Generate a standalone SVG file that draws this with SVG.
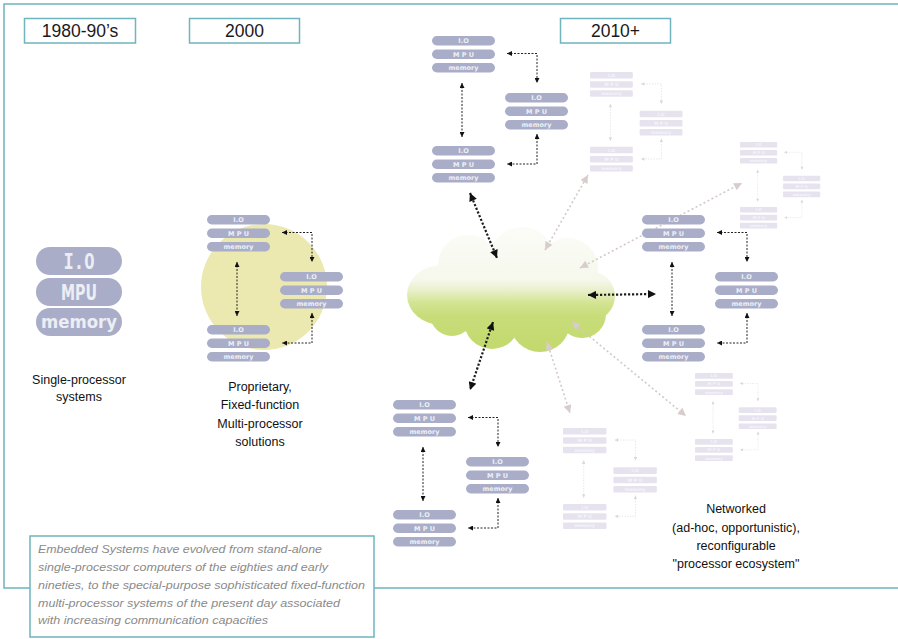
<svg xmlns="http://www.w3.org/2000/svg" xmlns:xlink="http://www.w3.org/1999/xlink" width="898" height="639" viewBox="0 0 898 639">
<style>
.frame{fill:none;stroke:#6fb4be;stroke-width:1.5}
.lbl{fill:#fff;stroke:#6fb4be;stroke-width:1.5}
.era{font-family:"Liberation Sans",Arial,sans-serif;font-size:17.5px;fill:#1a1a1a;text-anchor:middle}
.desc{font-family:"Liberation Sans",Arial,sans-serif;font-size:12.5px;fill:#111;text-anchor:middle}
.cap{font-family:"Liberation Sans",Arial,sans-serif;font-size:11.5px;font-style:italic;fill:#8a8a8a}
.bar{fill:#a9adc8}
.barf{fill:#e6e3ef}
.mt{font-family:"DejaVu Sans",sans-serif;font-size:6.5px;font-weight:bold;fill:#eef0f7;text-anchor:middle}
.mtf{font-family:"DejaVu Sans",sans-serif;font-size:6.5px;font-weight:bold;fill:#f5f4f9;text-anchor:middle}
.big{font-family:"DejaVu Sans",sans-serif;font-weight:bold;fill:#eceef6;text-anchor:middle}
.cn{fill:none;stroke:#222;stroke-width:1;stroke-dasharray:2 1.5}
.cnf{fill:none;stroke:#dcdcdc;stroke-width:1;stroke-dasharray:2 2}
.bk{fill:none;stroke:#1e1e1e;stroke-width:2.2;stroke-dasharray:2.2 1.8}
.gr{fill:none;stroke:#d4c8c8;stroke-width:1.6;stroke-dasharray:2 2.5}
</style>
<defs>
<marker id="ma" viewBox="0 0 10 10" refX="10" refY="5" markerWidth="6" markerHeight="5" markerUnits="userSpaceOnUse" orient="auto-start-reverse"><path d="M0,0L10,5L0,10z" fill="#111"/></marker>
<marker id="maf" viewBox="0 0 10 10" refX="10" refY="5" markerWidth="6" markerHeight="5" markerUnits="userSpaceOnUse" orient="auto-start-reverse"><path d="M0,0L10,5L0,10z" fill="#d8d8d8"/></marker>
<marker id="mb" viewBox="0 0 10 10" refX="10" refY="5" markerWidth="10" markerHeight="8" markerUnits="userSpaceOnUse" orient="auto-start-reverse"><path d="M0,0L10,5L0,10z" fill="#111"/></marker>
<marker id="mg" viewBox="0 0 10 10" refX="10" refY="5" markerWidth="10" markerHeight="8" markerUnits="userSpaceOnUse" orient="auto-start-reverse"><path d="M0,0L10,5L0,10z" fill="#d8cccc"/></marker>
<linearGradient id="cg" gradientUnits="userSpaceOnUse" x1="0" y1="227" x2="0" y2="353">
<stop offset="0" stop-color="#fbfcf7"/>
<stop offset="0.42" stop-color="#f6f8ec"/>
<stop offset="0.5" stop-color="#e9f0cc"/>
<stop offset="0.6" stop-color="#d3e493"/>
<stop offset="0.7" stop-color="#c8dd7a"/>
<stop offset="1" stop-color="#c2d96c"/>
</linearGradient>
<g id="stk">
<rect x="0" y="0" width="63" height="9.5" rx="4.75" class="bar"/>
<text x="31.5" y="7.2" class="mt">I.O</text>
<rect x="0" y="13.5" width="63" height="9.5" rx="4.75" class="bar"/>
<text x="31.5" y="20.7" class="mt">M P U</text>
<rect x="0" y="27" width="63" height="9.5" rx="4.75" class="bar"/>
<text x="31.5" y="34.2" class="mt">memory</text>
</g>
<g id="stkf">
<rect x="0" y="0" width="63" height="9.5" rx="1.5" class="barf"/>
<text x="31.5" y="7.2" class="mtf">I.O</text>
<rect x="0" y="13.5" width="63" height="9.5" rx="1.5" class="barf"/>
<text x="31.5" y="20.7" class="mtf">M P U</text>
<rect x="0" y="27" width="63" height="9.5" rx="1.5" class="barf"/>
<text x="31.5" y="34.2" class="mtf">memory</text>
</g>
<g id="cnt">
<path class="cn" d="M30,47V101" marker-start="url(#ma)" marker-end="url(#ma)"/>
<path class="cn" d="M75,17.5H105V47" marker-start="url(#ma)" marker-end="url(#ma)"/>
<path class="cn" d="M105,98V128H75" marker-start="url(#ma)" marker-end="url(#ma)"/>
</g>
<g id="cntf">
<path class="cnf" d="M30,47V101" marker-start="url(#maf)" marker-end="url(#maf)"/>
<path class="cnf" d="M75,17.5H105V47" marker-start="url(#maf)" marker-end="url(#maf)"/>
<path class="cnf" d="M105,98V128H75" marker-start="url(#maf)" marker-end="url(#maf)"/>
</g>
</defs>
<rect width="898" height="639" fill="#fff"/>
<g id="frame">
<path class="frame" d="M898,4H4V588H30M374,588H898"/>
</g>
<g id="era-labels">
<rect class="lbl" x="24.5" y="18.5" width="111" height="24.5"/>
<text class="era" x="80" y="37">1980-90’s</text>
<rect class="lbl" x="189.5" y="18.5" width="110" height="24.5"/>
<text class="era" x="244.5" y="37">2000</text>
<rect class="lbl" x="560.5" y="18.5" width="110" height="24.5"/>
<text class="era" x="615.5" y="37">2010+</text>
</g>
<g id="single">
<rect x="36" y="247" width="86" height="28" rx="14" class="bar"/>
<text class="big" x="79" y="269" font-size="21" textLength="31" lengthAdjust="spacingAndGlyphs" style="font-family:'DejaVu Sans Mono',monospace">I.O</text>
<rect x="36" y="278" width="86" height="28" rx="14" class="bar"/>
<text class="big" x="79" y="300" font-size="21" textLength="36" lengthAdjust="spacingAndGlyphs">MPU</text>
<rect x="36" y="308" width="86" height="28" rx="14" class="bar"/>
<text class="big" x="79" y="328" font-size="17" textLength="76" lengthAdjust="spacingAndGlyphs">memory</text>
<text class="desc" x="79" y="384">Single-processor</text>
<text class="desc" x="79" y="401">systems</text>
</g>
<circle id="halo2000" cx="264" cy="287" r="63" fill="#ebe9b0"/>
<g id="cloud" fill="url(#cg)">
<ellipse cx="442" cy="295" rx="35" ry="30"/>
<circle cx="468" cy="265" r="30"/>
<circle cx="522" cy="260" r="33"/>
<circle cx="568" cy="268" r="30"/>
<circle cx="590" cy="296" r="25"/>
<circle cx="452" cy="314" r="22"/>
<circle cx="492" cy="321" r="28"/>
<circle cx="540" cy="322" r="30"/>
<circle cx="582" cy="314" r="24"/>
<ellipse cx="512" cy="295" rx="85" ry="36"/>
</g>
<g id="connectors">
<use xlink:href="#cnt" href="#cnt" transform="translate(207,215)"/>
<use xlink:href="#cnt" href="#cnt" transform="translate(432,36)"/>
<use xlink:href="#cnt" href="#cnt" transform="translate(642,215)"/>
<use xlink:href="#cnt" href="#cnt" transform="translate(393,400)"/>
<use xlink:href="#cntf" href="#cntf" transform="translate(590,72) scale(0.68)"/>
<use xlink:href="#cntf" href="#cntf" transform="translate(740,142) scale(0.59)"/>
<use xlink:href="#cntf" href="#cntf" transform="translate(695,373) scale(0.6)"/>
<use xlink:href="#cntf" href="#cntf" transform="translate(563,428) scale(0.69)"/>
<path class="gr" d="M545,250L588,175" marker-start="url(#mg)" marker-end="url(#mg)"/>
<path class="gr" d="M580,268L742,183" marker-start="url(#mg)" marker-end="url(#mg)"/>
<path class="gr" d="M572,322L686,416" marker-start="url(#mg)" marker-end="url(#mg)"/>
<path class="gr" d="M547,342L570,413" marker-start="url(#mg)" marker-end="url(#mg)"/>
<path class="bk" d="M470,193L497,258" marker-start="url(#mb)" marker-end="url(#mb)"/>
<path class="bk" d="M588,295L656,294" marker-start="url(#mb)" marker-end="url(#mb)"/>
<path class="bk" d="M493,322L470,390" marker-start="url(#mb)" marker-end="url(#mb)"/>
</g>
<g id="c2000">
<g id="c2000-a"><use xlink:href="#stk" href="#stk" x="207" y="215"/></g>
<g id="c2000-b"><use xlink:href="#stk" href="#stk" x="280" y="272"/></g>
<g id="c2000-c"><use xlink:href="#stk" href="#stk" x="207" y="325"/></g>
</g>
<g id="ctop">
<g id="ctop-a"><use xlink:href="#stk" href="#stk" x="432" y="36"/></g>
<g id="ctop-b"><use xlink:href="#stk" href="#stk" x="505" y="93"/></g>
<g id="ctop-c"><use xlink:href="#stk" href="#stk" x="432" y="146"/></g>
</g>
<g id="cright">
<g id="cright-a"><use xlink:href="#stk" href="#stk" x="642" y="215"/></g>
<g id="cright-b"><use xlink:href="#stk" href="#stk" x="715" y="272"/></g>
<g id="cright-c"><use xlink:href="#stk" href="#stk" x="642" y="325"/></g>
</g>
<g id="cbot">
<g id="cbot-a"><use xlink:href="#stk" href="#stk" x="393" y="400"/></g>
<g id="cbot-b"><use xlink:href="#stk" href="#stk" x="466" y="457"/></g>
<g id="cbot-c"><use xlink:href="#stk" href="#stk" x="393" y="510"/></g>
</g>
<g id="faded1" transform="translate(590,72) scale(0.68)">
<use xlink:href="#stkf" href="#stkf" x="0" y="0"/><use xlink:href="#stkf" href="#stkf" x="73" y="57"/><use xlink:href="#stkf" href="#stkf" x="0" y="110"/>
</g>
<g id="faded2" transform="translate(740,142) scale(0.59)">
<use xlink:href="#stkf" href="#stkf" x="0" y="0"/><use xlink:href="#stkf" href="#stkf" x="73" y="57"/><use xlink:href="#stkf" href="#stkf" x="0" y="110"/>
</g>
<g id="faded3" transform="translate(695,373) scale(0.6)">
<use xlink:href="#stkf" href="#stkf" x="0" y="0"/><use xlink:href="#stkf" href="#stkf" x="73" y="57"/><use xlink:href="#stkf" href="#stkf" x="0" y="110"/>
</g>
<g id="faded4" transform="translate(563,428) scale(0.69)">
<use xlink:href="#stkf" href="#stkf" x="0" y="0"/><use xlink:href="#stkf" href="#stkf" x="73" y="57"/><use xlink:href="#stkf" href="#stkf" x="0" y="110"/>
</g>
<g id="label2000">
<text class="desc" x="260" y="391">Proprietary,</text>
<text class="desc" x="260" y="409">Fixed-function</text>
<text class="desc" x="260" y="428">Multi-processor</text>
<text class="desc" x="260" y="446">solutions</text>
</g>
<g id="label2010">
<text class="desc" x="736" y="513">Networked</text>
<text class="desc" x="736" y="532">(ad-hoc, opportunistic),</text>
<text class="desc" x="736" y="550">reconfigurable</text>
<text class="desc" x="736" y="568">"processor ecosystem"</text>
</g>
<g id="caption">
<rect class="lbl" x="30" y="536" width="344" height="101"/>
<text class="cap" x="38" y="553" textLength="284" lengthAdjust="spacingAndGlyphs">Embedded Systems have evolved from stand-alone</text>
<text class="cap" x="38" y="571" textLength="290" lengthAdjust="spacingAndGlyphs">single-processor computers of the eighties and early</text>
<text class="cap" x="38" y="589" textLength="327" lengthAdjust="spacingAndGlyphs">nineties, to the special-purpose sophisticated fixed-function</text>
<text class="cap" x="38" y="607" textLength="302" lengthAdjust="spacingAndGlyphs">multi-processor systems of the present day associated</text>
<text class="cap" x="38" y="624" textLength="230" lengthAdjust="spacingAndGlyphs">with increasing communication capacities</text>
</g>
</svg>
